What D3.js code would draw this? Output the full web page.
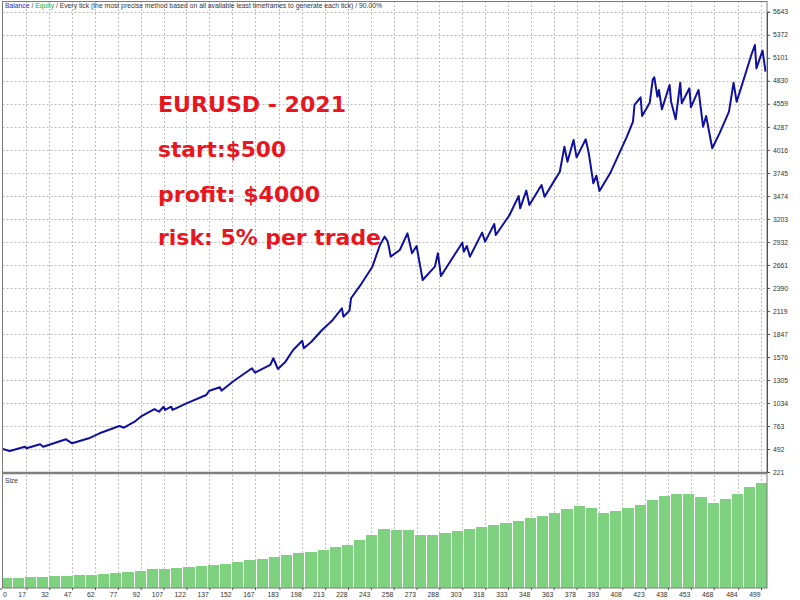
<!DOCTYPE html>
<html><head><meta charset="utf-8">
<script src="https://cdn.jsdelivr.net/npm/d3@7"></script>
<style>
html,body{margin:0;padding:0;background:#fff;}
svg{display:block;}
</style>
</head><body>
<svg id="chart" width="800" height="600"></svg>
<script>
// ---------- data ----------
const xTickLabels = [0,17,32,47,62,77,92,107,122,137,152,167,183,198,213,228,243,258,273,288,303,318,333,348,363,378,393,408,423,438,453,468,484,499];
const yTickLabels = [221,492,763,1034,1305,1576,1847,2119,2390,2661,2932,3203,3474,3745,4016,4287,4559,4830,5101,5372,5643];
const tradeIdx = [0,6,16,17,26,28,43,47,58,65,78,81,88,92,101,104,107,108,112,113,122,135,137,144,145,153,165,167,177,179,182,187,192,198,199,204,211,218,224,225,229,230,237,244,249,252,254,255,256,262,267,270,273,277,285,287,289,303,304,306,308,316,318,324,325,334,340,341,345,347,355,357,363,367,370,372,376,378,384,386,389,391,393,400,411,415,416,420,421,426,428,429,431,432,434,439,440,443,446,447,452,453,458,461,463,467,472,478,481,483,487,493,495,496,500,502];
const balance = [500,468,519,500,547,519,606,559,618,677,763,743,814,873,963,931,990,952,990,952,1030,1128,1179,1219,1179,1293,1443,1391,1482,1561,1435,1521,1659,1768,1679,1756,1894,2012,2150,2051,2122,2268,2444,2640,2896,2994,2940,2857,2758,2837,3033,2798,2884,2483,2640,2798,2530,2923,2817,2884,2758,3041,2935,3143,3013,3249,3473,3328,3536,3367,3603,3465,3642,3759,4054,3877,4133,3928,4141,3976,3623,3712,3532,3740,4172,4349,4545,4636,4415,4572,4848,4871,4643,4722,4494,4781,4584,4377,4808,4565,4742,4518,4722,4290,4415,4035,4219,4466,4808,4584,4808,5154,5252,4977,5185,4938];
// lot size, one value per block of 8 trades
const sizeLots = [0.10,0.105,0.11,0.11,0.12,0.125,0.13,0.135,0.145,0.155,0.165,0.175,0.19,0.195,0.20,0.21,0.22,0.23,0.245,0.265,0.28,0.29,0.31,0.33,0.353,0.365,0.385,0.41,0.43,0.48,0.53,0.59,0.58,0.58,0.53,0.53,0.55,0.57,0.59,0.61,0.63,0.65,0.675,0.70,0.72,0.75,0.79,0.82,0.80,0.75,0.77,0.80,0.835,0.88,0.92,0.945,0.94,0.91,0.85,0.89,0.94,1.01,1.05];
const tradesPerSizeBar = 8;
const annotations = ["EURUSD - 2021","start:$500","profit: $4000","risk: 5% per trade"];

// ---------- layout ----------
const L = 2.5, R = 767, T = 1, MB = 472, ST = 475, SB = 588;
const svg = d3.select("#chart");
svg.append("rect").attr("width",800).attr("height",600).attr("fill","#fff");

const x = d3.scaleLinear().domain([0,503]).range([0.5,767.1]);
const y = d3.scaleLinear().domain([221,5643]).range([MB,11.8]);
const ys = d3.scaleLinear().domain([0,1.14]).range([SB,ST-1]);

svg.append("clipPath").attr("id","cm").append("rect").attr("x",L).attr("y",T).attr("width",R-L).attr("height",MB-T);
svg.append("clipPath").attr("id","cs").append("rect").attr("x",L).attr("y",ST).attr("width",R-L).attr("height",SB-ST);

const gridColor = "#bdbdbd";
// main panel grid
const gMain = svg.append("g").attr("clip-path","url(#cm)");
gMain.selectAll("line.h").data(yTickLabels).join("line")
  .attr("x1",L).attr("x2",R).attr("y1",d=>Math.round(y(d))+0.5).attr("y2",d=>Math.round(y(d))+0.5)
  .attr("stroke",gridColor).attr("stroke-dasharray","2,2");
gMain.selectAll("line.v").data(xTickLabels).join("line")
  .attr("y1",T).attr("y2",MB).attr("x1",d=>Math.round(x(d))+0.5).attr("x2",d=>Math.round(x(d))+0.5)
  .attr("stroke",gridColor).attr("stroke-dasharray","2,2");

// size panel grid + bars
const gSize = svg.append("g").attr("clip-path","url(#cs)");
gSize.selectAll("line.v").data(xTickLabels).join("line")
  .attr("y1",ST).attr("y2",SB).attr("x1",d=>Math.round(x(d))+0.5).attr("x2",d=>Math.round(x(d))+0.5)
  .attr("stroke",gridColor).attr("stroke-dasharray","2,2");
gSize.selectAll("rect.bar").data(sizeLots).join("rect")
  .attr("x",(d,i)=>x(i*tradesPerSizeBar))
  .attr("width",(d,i)=>Math.max(1,x((i+1)*tradesPerSizeBar)-x(i*tradesPerSizeBar)-1))
  .attr("y",d=>ys(d)).attr("height",d=>SB-ys(d))
  .attr("fill","#7ed17e").attr("shape-rendering","crispEdges");

// annotations
const ann = svg.append("g").attr("font-family","'DejaVu Sans', sans-serif").attr("font-weight","bold")
  .attr("font-size",21).attr("fill","#e8161e");
const annY = [112,157,202,245], annW = [188,128,162,223];
annotations.forEach((t,i)=>{
  ann.append("text").attr("x",158).attr("y",annY[i]).attr("textLength",annW[i])
    .attr("lengthAdjust","spacingAndGlyphs").text(t);
});

// balance line
const pts = tradeIdx.map((t,i)=>[t,balance[i]]);
svg.append("path").attr("clip-path","url(#cm)").datum(pts)
  .attr("d",d3.line().x(d=>x(d[0])).y(d=>y(d[1])))
  .attr("fill","none").attr("stroke","#10109e").attr("stroke-width",2).attr("stroke-linejoin","round");

// frames
const frame = "#7a7a7a";
svg.append("rect").attr("x",L).attr("y",T+0.5).attr("width",R-L).attr("height",SB-T-0.5)
  .attr("fill","none").attr("stroke",frame).attr("stroke-width",1);
svg.append("line").attr("x1",L).attr("x2",R).attr("y1",MB+1).attr("y2",MB+1).attr("stroke","#808080").attr("stroke-width",2.5);

// right axis
const yAxis = d3.axisRight(y).tickValues(yTickLabels).tickSize(3).tickPadding(3).tickFormat(d3.format("d"));
const gy = svg.append("g").attr("transform",`translate(${R},0)`).call(yAxis);
gy.select(".domain").attr("stroke","#505050");
gy.selectAll(".tick line").attr("stroke","#505050");
gy.selectAll("text").attr("font-family","'Liberation Sans', Arial, sans-serif").attr("font-size",6.8).attr("fill","#333");

// bottom axis
const xAxis = d3.axisBottom(x).tickValues(xTickLabels).tickSize(2).tickPadding(2).tickFormat(d3.format("d"));
const gx = svg.append("g").attr("transform",`translate(0,${SB})`).call(xAxis);
gx.select(".domain").remove();
gx.selectAll(".tick line").attr("stroke","#505050");
gx.selectAll("text").attr("font-family","'Liberation Sans', Arial, sans-serif").attr("font-size",6.8).attr("fill","#333")
  .attr("text-anchor",(d,i)=>i===0?"start":"end").attr("dx",(d,i)=>i===0?2:-1);

// top legend
const leg = svg.append("text").attr("x",5).attr("y",8).attr("font-family","'Liberation Sans', Arial, sans-serif")
  .attr("font-size",6.6).attr("fill","#333").attr("textLength",377).attr("lengthAdjust","spacingAndGlyphs");
leg.append("tspan").attr("fill","#2a2ad0").text("Balance");
leg.append("tspan").text(" / ");
leg.append("tspan").attr("fill","#22b022").text("Equity");
leg.append("tspan").text(" / Every tick (the most precise method based on all available least timeframes to generate each tick) / 90.00%");

// size label
svg.append("text").attr("x",5).attr("y",483).attr("font-family","'Liberation Sans', Arial, sans-serif")
  .attr("font-size",6.6).attr("fill","#333").text("Size");
</script>
</body></html>
